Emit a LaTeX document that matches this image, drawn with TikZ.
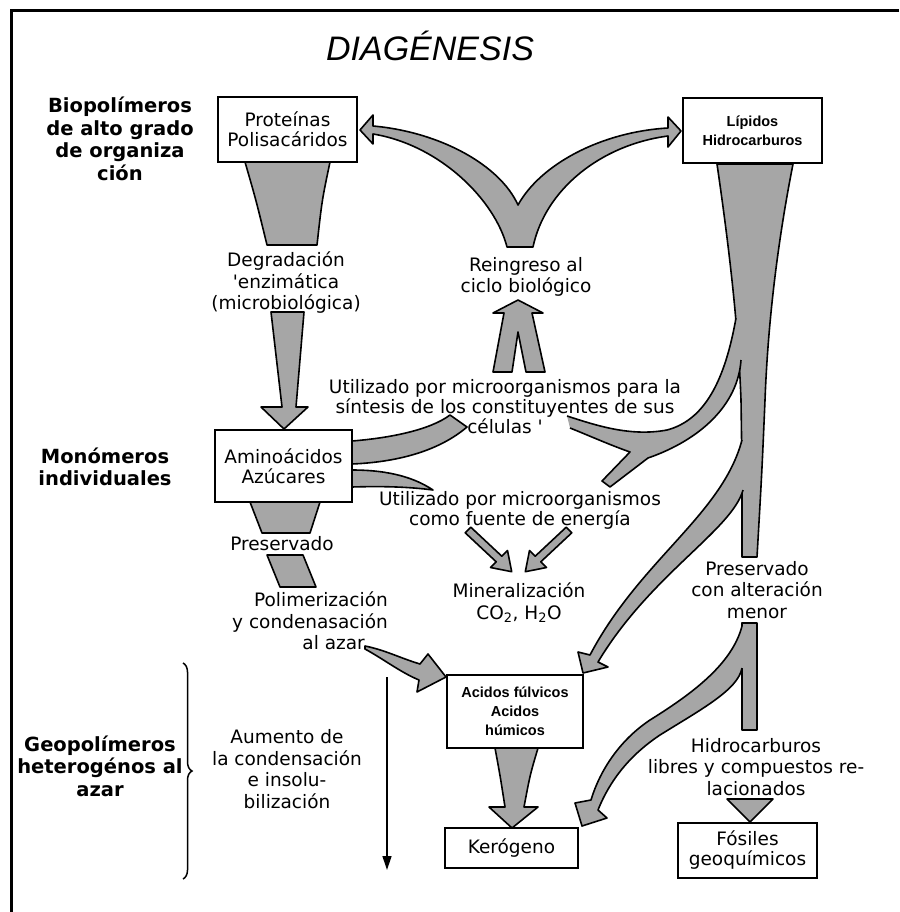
\documentclass[tikz,border=0pt]{standalone}
\usepackage{fontspec}
\setmainfont{DejaVu Sans}
\newfontfamily\arialfont{Liberation Sans}
\usetikzlibrary{arrows.meta,decorations.pathreplacing}

\tikzset{
  lbl/.style={font=\fontsize{18.5}{21.5}\selectfont, align=center, inner sep=0pt},
  side/.style={font=\bfseries\fontsize{19.5}{22.5}\selectfont, align=center, inner sep=0pt},
  cell/.style={draw, line width=2pt, fill=white, align=center, inner sep=0pt,
    font=\fontsize{18.5}{20}\selectfont},
  cellbold/.style={cell, font=\arialfont\bfseries\fontsize{14.5}{19}\selectfont},
  flow/.style={draw, line width=1.6pt, fill=black!35, line join=round},
  edge/.style={line width=1.6pt, line join=round},
}

\begin{document}
\begin{tikzpicture}[x=1pt,y=-1pt]
  \useasboundingbox (0,0) rectangle (899,912);
  % frame
  \draw[line width=3pt] (899,11) -- (11,11) -- (11,912);

  % funnels and flows
  \draw[flow] (245,162) -- (330,162) .. controls (322,200) .. (317,245)
    -- (267,245) .. controls (256,200) .. (245,162) -- cycle;
  \draw[flow] (271,312) -- (304,312) -- (296,407) -- (308,407) -- (284,429)
    -- (261,407) -- (282,407) -- cycle;
  \draw[flow] (250,502) -- (320,502) -- (310,533) -- (262,533) -- cycle;
  \draw[flow] (267,555) -- (303,555) -- (316,587) -- (280,587) -- cycle;
  \draw[flow] (365,646) .. controls (385,650) and (400,658) .. (420,664)
    -- (428,654) -- (446,677) -- (417,692) -- (419,680)
    .. controls (400,672) and (385,660) .. (365,649) -- cycle;
  \draw[flow] (495,748) -- (538,748) .. controls (530,775) .. (524,807)
    -- (538,807) -- (512,828) -- (489,807) -- (505,807)
    .. controls (500,775) .. (495,748) -- cycle;
  \draw[flow] (727,799) -- (773,799) -- (750,822) -- cycle;

  % reingreso
  \draw[flow] (493,372) -- (504,313) -- (493,313) -- (518,300) -- (543,313)
    -- (532,313) -- (545,372) -- (526,372) -- (518,332) -- (512,372) -- cycle;
  \draw[flow] (507,247) .. controls (495,200) and (440,145) .. (373,134)
    -- (373,144) -- (360,130) -- (373,115) -- (373,126)
    .. controls (440,132) and (500,165) .. (518,205)
    .. controls (540,165) and (600,132) .. (668,128)
    -- (668,117) -- (681,131) -- (668,147) -- (668,136)
    .. controls (600,145) and (545,190) .. (533,247) -- cycle;

  % aminoacidos
  \draw[flow] (352,441) .. controls (390,438) and (430,430) .. (450,415)
    -- (467,427) .. controls (440,450) and (400,462) .. (352,464) -- cycle;
  \draw[flow] (352,470) .. controls (390,470) and (415,478) .. (433,490)
    .. controls (410,487) and (385,486) .. (352,487) -- cycle;
  \foreach \side in {1,-1}
   {
    \begin{scope}[shift={(518.5,0)}, xscale=\side]
      \draw[flow] (-47.7,527.2) -- (-16.7,556.2) -- (-11,550.5) -- (-6.8,571.7)
        -- (-28,567.5) -- (-22.3,561.8) -- (-53.3,532.8) -- cycle;
    \end{scope}
   }

  % lipidos
  \draw[flow] (717,164) -- (793,164) .. controls (778,240) and (768,320) .. (765,400)
    .. controls (762,470) .. (757,557) -- (742,557) .. controls (742,470) .. (741,400)
    .. controls (738,320) and (728,240) .. (717,164) -- cycle;
  \draw[flow] (742,623) -- (757,623) -- (757,730) -- (742,730) -- cycle;
  %sintesis
  \fill[black!35] (748,315) -- (736,318) .. controls (725,380) and (705,420) .. (667,430)
    .. controls (630,437) and (595,425) .. (567,416) -- (570,428)
    .. controls (590,436) and (610,445) .. (630,452) -- (602,481) -- (610,487)
    -- (648,458) .. controls (700,440) and (738,405) .. (741,360) -- (748,360) -- cycle;
  \draw[edge] (736,318) .. controls (725,380) and (705,420) .. (667,430)
    .. controls (630,437) and (595,425) .. (567,416);
  \draw[edge] (570,428) .. controls (590,436) and (610,445) .. (630,452) -- (602,481)
    -- (610,487) -- (648,458) .. controls (700,440) and (738,405) .. (741,360);
  %acidos
  \fill[black!35] (750,440) -- (742,440) .. controls (722,515) and (640,560) .. (590,655)
    -- (578,652) -- (583,673) -- (608,667) -- (598,662)
    .. controls (650,575) and (732,530) .. (743,490) -- (750,490) -- cycle;
  \draw[edge] (742,440) .. controls (722,515) and (640,560) .. (590,655)
    -- (578,652) -- (583,673) -- (608,667) -- (598,662)
    .. controls (650,575) and (732,530) .. (743,490);
  %kerogeno
  \fill[black!35] (749,626) -- (742,626) .. controls (732,665) and (690,695) .. (650,720)
    .. controls (620,740) and (600,770) .. (591,800) -- (575,803) -- (582,826)
    -- (607,818) -- (598,810) .. controls (610,780) and (630,755) .. (660,735)
    .. controls (700,710) and (738,690) .. (742,668) -- (749,668) -- cycle;
  \draw[edge] (742,626) .. controls (732,665) and (690,695) .. (650,720)
    .. controls (620,740) and (600,770) .. (591,800) -- (575,803) -- (582,826)
    -- (607,818) -- (598,810) .. controls (610,780) and (630,755) .. (660,735)
    .. controls (700,710) and (738,690) .. (742,668);

  % boxes
  \node[cell, minimum width=139pt, minimum height=65pt] (prot) at (287.5,129.5)
    {Proteínas\\Polisacáridos};
  \node[cellbold, minimum width=139pt, minimum height=65pt] (lip) at (752.5,130.5)
    {Lípidos\\Hidrocarburos};
  \node[cell, minimum width=137pt, minimum height=72pt] (amino) at (283.5,466)
    {Aminoácidos\\Azúcares};
  \node[cellbold, minimum width=136pt, minimum height=73pt] (acid) at (515,711.5)
    {Acidos fúlvicos\\Acidos\\húmicos};
  \node[cell, minimum width=133pt, minimum height=40pt] (kero) at (511.5,848)
    {Kerógeno};
  \node[cell, minimum width=139pt, minimum height=55pt] (fos) at (747.5,850.5)
    {Fósiles\\geoquímicos};

  % labels
  \node[font=\arialfont\itshape\fontsize{34}{40}\selectfont] (title) at (430,46) {DIAGÉNESIS};
  \node[side] (bio) at (120,139) {Biopolímeros\\de alto grado\\de organiza\\ción};
  \node[side] (mono) at (105,467) {Monómeros\\individuales};
  \node[side] (geo) at (100,766) {Geopolímeros\\heterogénos al\\azar};
  \node[lbl] (degr) at (286,283) {Degradación\\\textquotesingle enzimática\\(microbiológica)};
  \node[lbl] (reing) at (526,277) {Reingreso al\\ciclo biológico};
  \node[lbl, font=\fontsize{18.5}{20}\selectfont] (sint) at (505,407)
    {Utilizado por microorganismos para la\\síntesis de los constituyentes de sus\\células \textquotesingle};
  \node[lbl, font=\fontsize{18.5}{20}\selectfont] (ener) at (520,510)
    {Utilizado por microorganismos\\como fuente de energía};
  \node[lbl] (miner) at (519,603) {Mineralización\\CO\textsubscript{2}, H\textsubscript{2}O};
  \node[lbl] (pres) at (282,544) {Preservado};
  \node[lbl, align=right, anchor=east] (polim) at (388,621)
    {Polimerización\\y condenasación\\al azar\hspace*{23pt}};
  \node[lbl] (aum) at (287,769) {Aumento de\\la condensación\\e insolu-\\bilización};
  \node[lbl] (presm) at (757,590) {Preservado\\con alteración\\menor};
  \node[lbl] (hidro) at (756,767) {Hidrocarburos\\libres y compuestos re-\\lacionados};

  % trend
  \coordinate (trend top) at (387,677);
  \coordinate (trend end) at (387,870);
  \draw[line width=1.3pt, -{Triangle[length=14pt,width=9pt]}] (trend top) -- (trend end);
  \draw[line width=1.5pt, decorate, decoration={brace, amplitude=9pt}] (183,663) -- (183,879);
\end{tikzpicture}
\end{document}
